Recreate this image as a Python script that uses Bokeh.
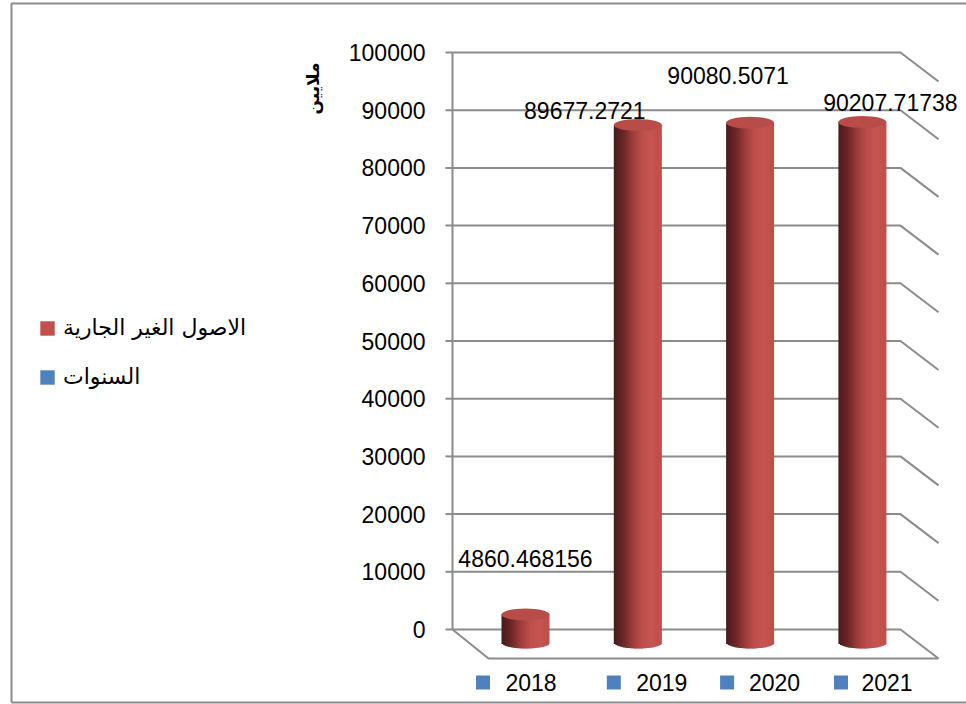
import math
from bokeh.plotting import figure
from bokeh.models import Range1d, Legend, LegendItem, Label
from bokeh.embed import file_html
from bokeh.resources import INLINE
from bokeh.core.properties import value

# ---------------- data ----------------
years = ["2018", "2019", "2020", "2021"]
assets = [4860.468156, 89677.2721, 90080.5071, 90207.71738]
asset_labels = ["4860.468156", "89677.2721", "90080.5071", "90207.71738"]
y_ticks = [0, 10000, 20000, 30000, 40000, 50000, 60000, 70000, 80000, 90000, 100000]
y_tick_labels = ["0", "10000", "20000", "30000", "40000", "50000", "60000", "70000",
                 "80000", "90000", "100000"]
series_name = "الاصول الغير الجارية"
years_name = "السنوات"
y_title = "ملايين"

# ---------------- styles / layout (pixels) ----------------
W, H = 966, 704
Y0_PX, Y100_PX = 629, 52
S = (Y0_PX - Y100_PX) / 100000.0
X0_PX, DX_PX = 525, 112.3
RED = "#c0504d"
BLUE = "#4f81bd"
GRID = "#8c8c8c"
FONT = "Liberation Sans"
AFONT = "DejaVu Sans"

label_dx = [0, -53, -22, 28]
label_dy = [-56, -15, -47, -20]
year_dx = [5.5, 24, 24.4, 24.6]
square_dx = [-42.5, -24, -23, -21.4]


def xd(px):
    return (px - X0_PX) / DX_PX


def yd(py):
    return (Y0_PX - py) / S


p = figure(width=W, height=H, x_range=Range1d(xd(0), xd(W)), y_range=Range1d(yd(H), yd(0)),
           x_axis_location=None, y_axis_location=None, toolbar_location=None,
           output_backend="svg", min_border=0, outline_line_color=None)
p.grid.visible = False

# chart border
p.multi_line(xs=[[xd(11), xd(11), xd(980)], [xd(11), xd(980)]],
             ys=[[yd(702), yd(3), yd(3)], [yd(702), yd(702)]], line_color=GRID, line_width=2)

# ---------------- value axis (ticks + labels through the y scale) ----------------
p.segment(x0=[xd(445)] * len(y_ticks), y0=y_ticks, x1=[xd(452)] * len(y_ticks), y1=y_ticks,
          line_color=GRID, line_width=2)
p.text(x=[xd(425)] * len(y_ticks), y=y_ticks, text=y_tick_labels, text_align="right",
       text_baseline="middle", text_font=value(FONT), text_font_size="23px", text_color="black")

# ---------------- 3D walls ----------------
depth_y = 29 / S
xs, ys = [], []
for v in y_ticks:
    xs.append([xd(452), xd(900), xd(938)])
    ys.append([v, v, v - depth_y])
xs.append([xd(452), xd(488), xd(938)])
ys.append([0, -depth_y, -depth_y])
xs.append([xd(452), xd(452)])
ys.append([0, y_ticks[-1]])
p.multi_line(xs=xs, ys=ys, line_color=GRID, line_width=2)

# ---------------- cylinders ----------------
BASE = -13 / S
HALF_W = 24 / DX_PX
B = 6 / S
N = 30
stops = [(0.0, (72, 27, 27)), (0.2, (108, 39, 38)), (0.4, (158, 61, 59)),
         (0.6, (190, 79, 76)), (0.8, (199, 84, 81)), (1.0, (188, 77, 74))]


def grad(t):
    for (t0, c0), (t1, c1) in zip(stops[:-1], stops[1:]):
        if t <= t1:
            f = (t - t0) / (t1 - t0)
            return "#%02x%02x%02x" % tuple(int(round(a + (b - a) * f)) for a, b in zip(c0, c1))
    return "#%02x%02x%02x" % stops[-1][1]


L, R, Bt, T, C = [], [], [], [], []
for i, v in enumerate(assets):
    for j in range(N):
        u0 = -1 + 2 * j / N
        u1 = u0 + 2 / N
        uc = (u0 + u1) / 2
        L.append(i + u0 * HALF_W)
        R.append(i + u1 * HALF_W + (1.0 / DX_PX if j < N - 1 else 0))
        Bt.append(BASE - B * math.sqrt(max(0.0, 1 - uc * uc)))
        T.append(BASE + v)
        C.append(grad((uc + 1) / 2))
r_cyl = p.quad(left=L, right=R, bottom=Bt, top=T, fill_color=C, line_color=None)
LEGEND_STRIP = int(0.66 * N)  # strip whose colour is the series red

idx = list(range(len(years)))
tops = [BASE + v for v in assets]
p.ellipse(x=idx, y=tops, width=2 * HALF_W, height=2 * B, fill_color="#b84c49", line_color=None)

# data labels
p.text(x=idx, y=tops, text=asset_labels, x_offset=label_dx, y_offset=label_dy,
       text_align="center", text_baseline="middle", text_font=value(FONT),
       text_font_size="23px", text_color="black")

# year labels + blue squares
yl = yd(682)
p.text(x=idx, y=[yl] * 4, text=years, x_offset=year_dx, text_align="center",
       text_baseline="middle", text_font=value(FONT), text_font_size="23px", text_color="black")
r_blue = p.rect(x=[i + d / DX_PX for i, d in zip(idx, square_dx)], y=[yl] * 4, width=14, height=14,
                width_units="screen", height_units="screen", fill_color=BLUE, line_color=None)

legend = Legend(items=[LegendItem(label=series_name, renderers=[r_cyl], index=LEGEND_STRIP),
                       LegendItem(label=years_name, renderers=[r_blue])],
                location=(38, H - 389), glyph_width=18, glyph_height=18,
                label_standoff=7, spacing=24, padding=0, margin=0, border_line_color=None,
                background_fill_alpha=0, label_text_font=AFONT, label_text_font_size="22px",
                label_height=24, label_text_color="black")
p.add_layout(legend)

p.add_layout(Label(x=xd(312), y=yd(88), text=y_title, angle=math.pi / 2, text_align="center",
                   text_baseline="middle", text_font=AFONT, text_font_size="17px",
                   text_font_style="bold", text_color="black"))

open("out.html", "w").write(file_html(p, INLINE))
